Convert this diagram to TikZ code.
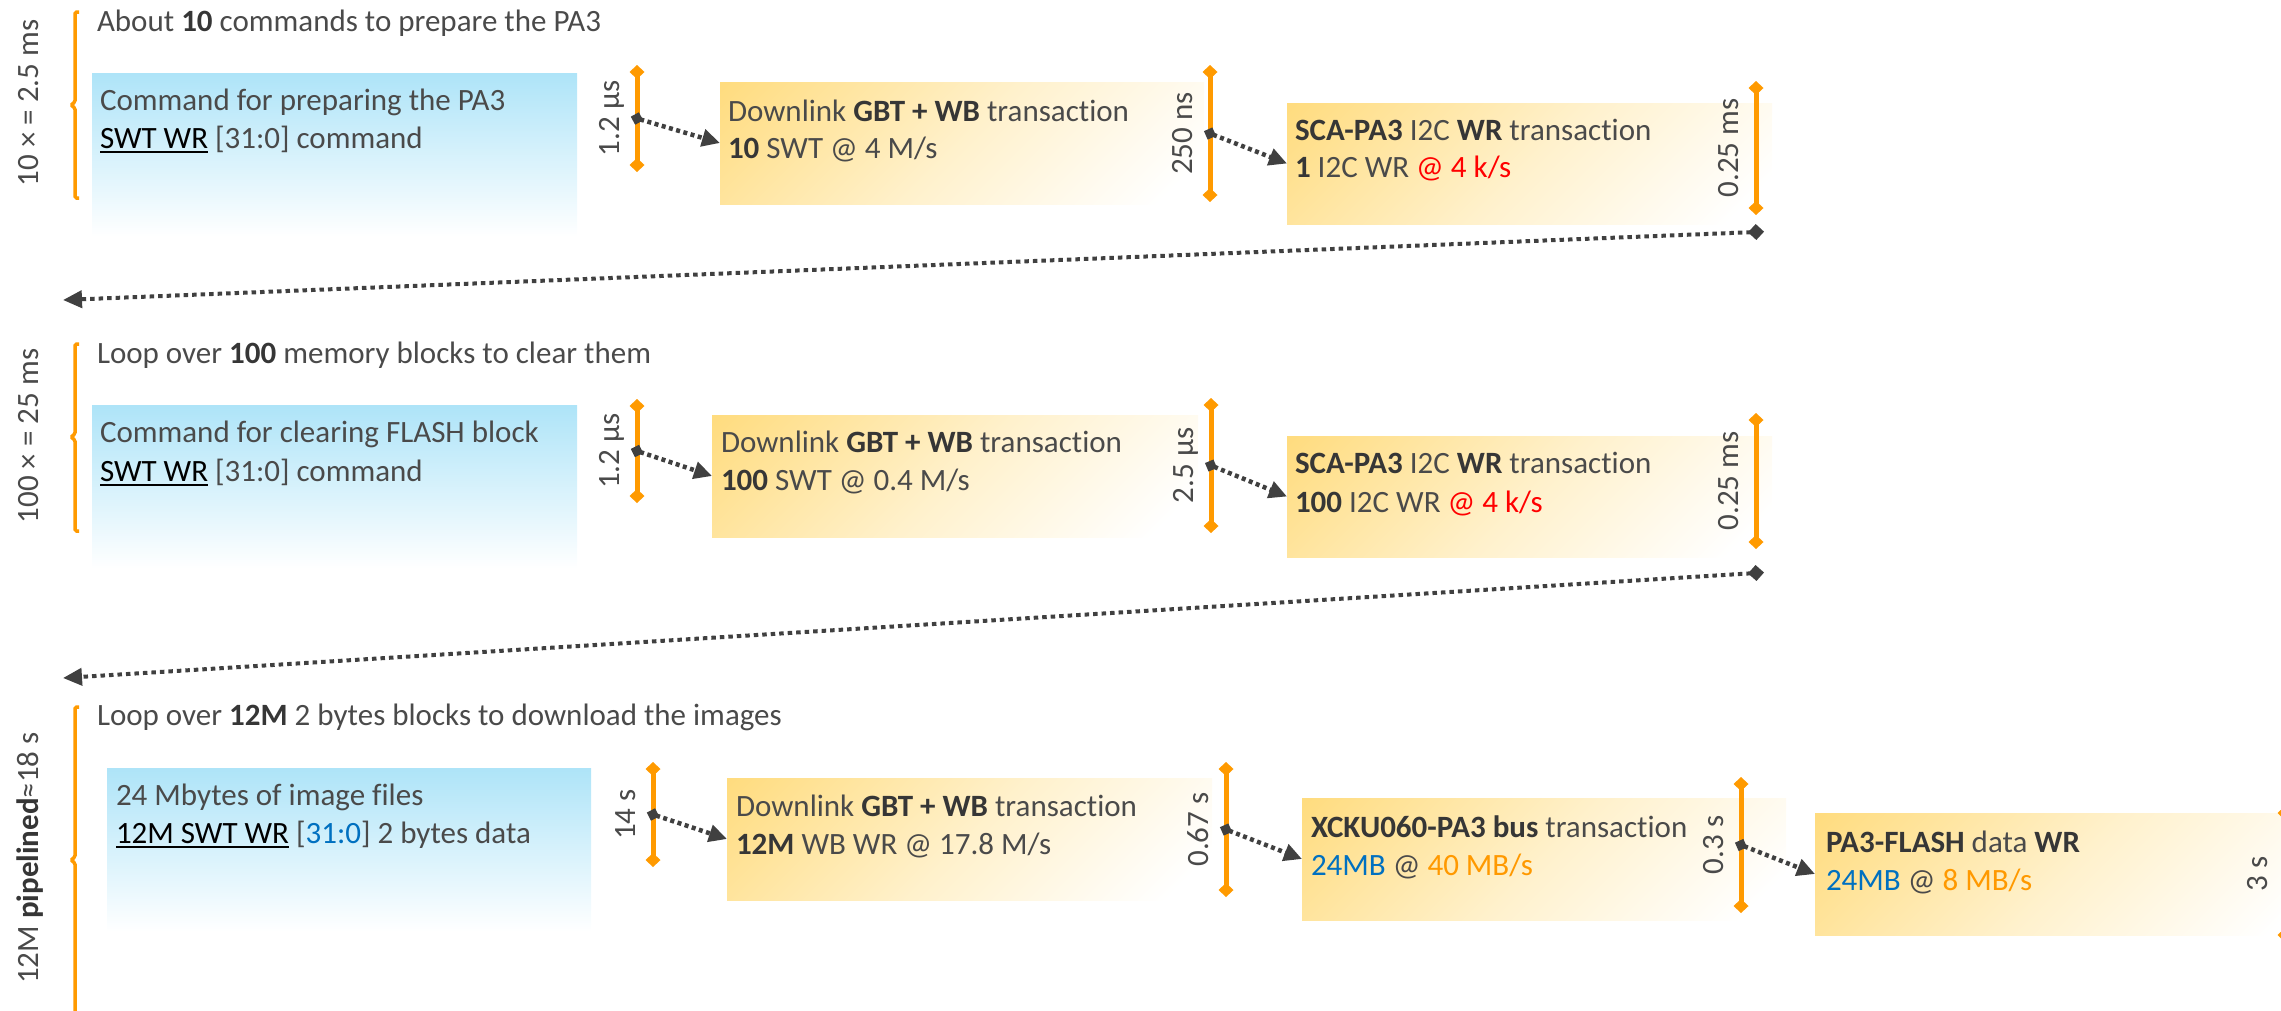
\documentclass[tikz,border=0pt]{standalone}
\usepackage{fontspec}
\setmainfont{Carlito}[Ligatures=NoCommon]
\usetikzlibrary{arrows.meta}

\definecolor{txt}{HTML}{4A4A4A}
\definecolor{txtb}{HTML}{363636}
\definecolor{orangebar}{HTML}{FF9A00}
\definecolor{darkarrow}{HTML}{404040}
\definecolor{bluetop}{HTML}{AEE4F8}
\definecolor{goldtop}{HTML}{FFDC7F}
\definecolor{goldmid}{HTML}{FFF1CC}
\definecolor{numblue}{HTML}{0070C0}
\definecolor{rateorange}{HTML}{FF9900}
\definecolor{ratered}{HTML}{FF0000}

% box fills: vertical blue fade and diagonal gold fade
\pgfdeclareverticalshading{bluefade}{100bp}{color(0bp)=(white); color(30bp)=(white); color(75bp)=(bluetop); color(100bp)=(bluetop)}
\pgfdeclareverticalshading{goldfade}{100bp}{color(0bp)=(white); color(20bp)=(white); color(50bp)=(goldmid); color(85bp)=(goldtop); color(100bp)=(goldtop)}

\newcommand\bfx[1]{{\bfseries\color{txtb}#1}}
\newcommand\ulk[1]{{\color{black}\setbox0\hbox{#1}\rlap{\rule[-5pt]{\wd0}{2.2pt}}\box0}}

\tikzset{
  every node/.style={font=\fontsize{31}{38}\selectfont, text=txt, inner sep=0pt, outer sep=0pt},
  cmdbox/.style={shade, shading=bluefade, anchor=north west},
  trbox/.style={shade, shading=goldfade, shading angle=45, anchor=north west},
  txtline/.style={anchor=base west},
  vlabel/.style={rotate=90, anchor=base},
  timebar/.style={draw=orangebar, line width=5pt,
    {Diamond[length=14pt,width=15pt]}-{Diamond[length=14pt,width=15pt]}},
  hop/.style={draw=darkarrow, line width=4.5pt, dash pattern=on 4pt off 3.5pt,
    {Diamond[length=13pt,width=13pt]}-{Triangle[length=18pt,width=17pt]}, shorten <=-6.5pt},
  loopback/.style={draw=darkarrow, line width=4pt, dash pattern=on 4.5pt off 4pt,
    {Diamond[length=16pt,width=16pt]}-{Triangle[length=19pt,width=17pt]}, shorten <=-8pt},
  bracket/.style={draw=orangebar, line width=3.5pt, rounded corners=1.5pt},
}

\begin{document}
\begin{tikzpicture}[x=1pt,y=-1pt]
\useasboundingbox (0,0) rectangle (2281,1010);
\clip (0,0) rectangle (2281,1010);

% ---------- stage 1: preparing the PA3 ----------
\node[txtline] (title1) at (97,31) {About \bfx{10} commands to prepare the PA3};
\draw[bracket] (79,12) -- (75,12) -- (75,102) -- (71,105) -- (75,108) -- (75,198) -- (79,198);
\node[vlabel] (tot1) at (38,103) {10 × = 2.5 ms};

\node[cmdbox, minimum width=485pt, minimum height=182pt] (cmd1) at (92,73) {};
\node[txtline] (cmd1a) at (100,110) {Command for preparing the PA3};
\node[txtline] (cmd1b) at (100,148) {\ulk{SWT WR} [31:0] command};

\node[trbox, minimum width=484pt, minimum height=122pt] (dl1) at (720,82) {};
\node[txtline] (dl1a) at (728,121) {Downlink \bfx{GBT + WB} transaction};
\node[txtline] (dl1b) at (728,158) {\bfx{10} SWT @ 4 M/s};

\node[trbox, minimum width=485pt, minimum height=121pt] (sca1) at (1287,103) {};
\node[txtline] (sca1a) at (1295,140) {\bfx{SCA-PA3} I2C \bfx{WR} transaction};
\node[txtline] (sca1b) at (1295,177) {\bfx{1} I2C WR \textcolor{ratered}{@ 4 k/s}};

\coordinate (t11) at (637,65);  \coordinate (b11) at (637,172);
\draw[timebar] (t11) -- coordinate (m11) (b11);
\node[vlabel] (l11) at ([xshift=-18pt]m11) {1.2 μs};

\coordinate (t12) at (1210,65); \coordinate (b12) at (1210,202);
\draw[timebar] (t12) -- coordinate (m12) (b12);
\node[vlabel] (l12) at ([xshift=-18pt]m12) {250 ns};

\coordinate (t13) at (1756,81); \coordinate (b13) at (1756,215);
\draw[timebar] (t13) -- coordinate (m13) (b13);
\node[vlabel] (l13) at ([xshift=-18pt]m13) {0.25 ms};

\draw[hop] (m11) -- (dl1.west);
\draw[hop] (m12) -- (sca1.west);

\coordinate (r1s) at (1756,232); \coordinate (r1e) at (63,300);
\draw[loopback] (r1s) -- (r1e);

% ---------- stage 2: clearing the memory blocks ----------
\node[txtline] (title2) at (97,363) {Loop over \bfx{100} memory blocks to clear them};
\draw[bracket] (79,344) -- (75,344) -- (75,434) -- (71,437) -- (75,440) -- (75,531) -- (79,531);
\node[vlabel] (tot2) at (38,436) {100 × = 25 ms};

\node[cmdbox, minimum width=485pt, minimum height=182pt] (cmd2) at (92,405) {};
\node[txtline] (cmd2a) at (100,442) {Command for clearing FLASH block};
\node[txtline] (cmd2b) at (100,481) {\ulk{SWT WR} [31:0] command};

\node[trbox, minimum width=486pt, minimum height=122pt] (dl2) at (712,415) {};
\node[txtline] (dl2a) at (721,452) {Downlink \bfx{GBT + WB} transaction};
\node[txtline] (dl2b) at (721,490) {\bfx{100} SWT @ 0.4 M/s};

\node[trbox, minimum width=485pt, minimum height=121pt] (sca2) at (1287,436) {};
\node[txtline] (sca2a) at (1295,473) {\bfx{SCA-PA3} I2C \bfx{WR} transaction};
\node[txtline] (sca2b) at (1295,512) {\bfx{100} I2C WR \textcolor{ratered}{@ 4 k/s}};

\coordinate (t21) at (637,399);  \coordinate (b21) at (637,503);
\draw[timebar] (t21) -- coordinate (m21) (b21);
\node[vlabel] (l21) at ([xshift=-18pt]m21) {1.2 μs};

\coordinate (t22) at (1211,398); \coordinate (b22) at (1211,533);
\draw[timebar] (t22) -- coordinate (m22) (b22);
\node[vlabel] (l22) at ([xshift=-18pt]m22) {2.5 μs};

\coordinate (t23) at (1756,413); \coordinate (b23) at (1756,549);
\draw[timebar] (t23) -- coordinate (m23) (b23);
\node[vlabel] (l23) at ([xshift=-18pt]m23) {0.25 ms};

\draw[hop] (m21) -- (dl2.west);
\draw[hop] (m22) -- (sca2.west);

\coordinate (r2s) at (1756,573); \coordinate (r2e) at (63,678);
\draw[loopback] (r2s) -- (r2e);

% ---------- stage 3: downloading the images ----------
\node[txtline] (title3) at (97,725) {Loop over \bfx{12M} 2 bytes blocks to download the images};
\draw[bracket] (79,707) -- (75,707) -- (75,857) -- (71,860) -- (75,863) -- (75,1013) -- (79,1013);
\node[vlabel] (tot3) at (38,858) {12M \bfx{pipelined}≈18 s};

\node[cmdbox, minimum width=484pt, minimum height=182pt] (img) at (107,768) {};
\node[txtline] (imga) at (116,805) {24 Mbytes of image files};
\node[txtline] (imgb) at (116,843) {\ulk{12M SWT WR} [\textcolor{numblue}{31:0}] 2 bytes data};

\node[trbox, minimum width=485pt, minimum height=122pt] (dl3) at (727,778) {};
\node[txtline] (dl3a) at (736,816) {Downlink \bfx{GBT + WB} transaction};
\node[txtline] (dl3b) at (736,854) {\bfx{12M} WB WR @ 17.8 M/s};

\node[trbox, minimum width=484pt, minimum height=122pt] (xcku) at (1302,798) {};
\node[txtline] (xckua) at (1311,837) {\bfx{XCKU060-PA3 bus} transaction};
\node[txtline] (xckub) at (1311,875) {\textcolor{numblue}{24MB} @ \textcolor{rateorange}{40 MB/s}};

\node[trbox, minimum width=500pt, minimum height=122pt] (flash) at (1815,813) {};
\node[txtline] (flasha) at (1826,852) {\bfx{PA3-FLASH} data \bfx{WR}};
\node[txtline] (flashb) at (1826,890) {\textcolor{numblue}{24MB} @ \textcolor{rateorange}{8 MB/s}};

\coordinate (t31) at (653,762);  \coordinate (b31) at (653,867);
\draw[timebar] (t31) -- coordinate (m31) (b31);
\node[vlabel] (l31) at ([xshift=-18pt]m31) {14 s};

\coordinate (t32) at (1226,762); \coordinate (b32) at (1226,897);
\draw[timebar] (t32) -- coordinate (m32) (b32);
\node[vlabel] (l32) at ([xshift=-18pt]m32) {0.67 s};

\coordinate (t33) at (1741,777); \coordinate (b33) at (1741,913);
\draw[timebar] (t33) -- coordinate (m33) (b33);
\node[vlabel] (l33) at ([xshift=-18pt]m33) {0.3 s};

\coordinate (t34) at (2285,806); \coordinate (b34) at (2285,942);
\draw[timebar] (t34) -- coordinate (m34) (b34);
\node[vlabel] (l34) at ([xshift=-18pt]m34) {3 s};

\draw[hop] (m31) -- (dl3.west);
\draw[hop] (m32) -- (xcku.west);
\draw[hop] (m33) -- (flash.west);

\end{tikzpicture}
\end{document}
